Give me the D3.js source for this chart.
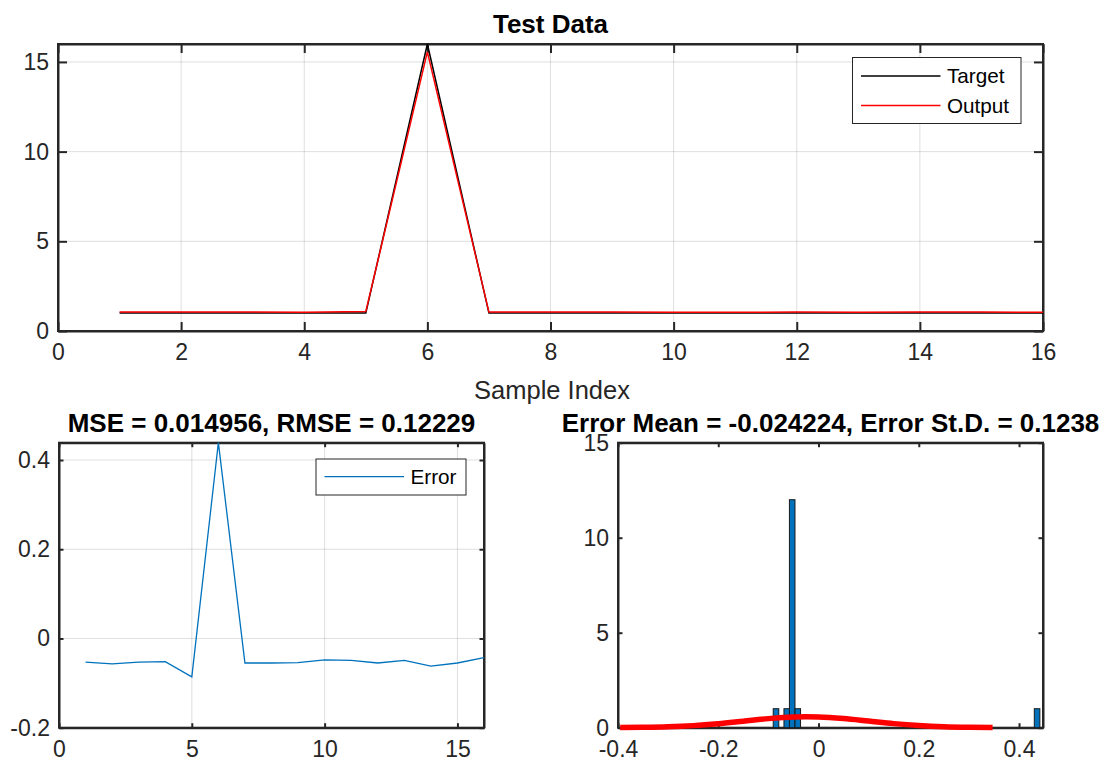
<!DOCTYPE html>
<html>
<head>
<meta charset="utf-8">
<script src="https://cdn.jsdelivr.net/npm/d3@7/dist/d3.min.js"></script>
<style>
  html, body { margin: 0; padding: 0; background: #fff; }
  svg { display: block; }
</style>
</head>
<body>
<svg id="chart" width="1105" height="762"></svg>
<script>
// ---------------- DATA ----------------
const sampleIndex = [1, 2, 3, 4, 5, 6, 7, 8, 9, 10, 11, 12, 13, 14, 15, 16];
const targetValues = [1, 1, 1, 1, 1, 16, 1, 1, 1, 1, 1, 1, 1, 1, 1, 1];
const outputValues = [1.053, 1.057, 1.053, 1.052, 1.086, 15.561, 1.055, 1.055, 1.054, 1.048, 1.049, 1.055, 1.049, 1.062, 1.055, 1.043];
const errorValues = [-0.053, -0.057, -0.053, -0.052, -0.086, 0.439, -0.055, -0.055, -0.054, -0.048, -0.049, -0.055, -0.049, -0.062, -0.055, -0.043];

const histBinCenters = [-0.0848, -0.0634, -0.0525, -0.0414, 0.4360];
const histCounts = [1, 1, 12, 1, 1];
const histBinWidth = 0.0111;

const fitX = [-0.3956, -0.35, -0.30, -0.25, -0.20, -0.15, -0.10, -0.05, -0.0242, 0.00, 0.05, 0.10, 0.15, 0.20, 0.25, 0.30, 0.3472];
const fitY = [0.006, 0.018, 0.048, 0.109, 0.211, 0.344, 0.478, 0.565, 0.577, 0.566, 0.482, 0.349, 0.214, 0.112, 0.050, 0.019, 0.006];

const topXTicks = [0, 2, 4, 6, 8, 10, 12, 14, 16];
const topYTicks = [0, 5, 10, 15];
const errXTicks = [0, 5, 10, 15];
const errYTicks = [-0.2, 0, 0.2, 0.4];
const histXTicks = [-0.4, -0.2, 0, 0.2, 0.4];
const histYTicks = [0, 5, 10, 15];

const topTitle = "Test Data";
const topXLabel = "Sample Index";
const errTitle = "MSE = 0.014956, RMSE = 0.12229";
const histTitle = "Error Mean = -0.024224, Error St.D. = 0.1238";
const legendTop = ["Target", "Output"];
const legendErr = ["Error"];

// ---------------- STYLE ----------------
const FONT = '"Liberation Sans", Arial, Helvetica, sans-serif';
const AX = "#262626";
const TICK_FS = 23;
const TITLE_FS = 26;
const LEG_FS = 20.7;
const BLUE = "#0072BD";

const svg = d3.select("#chart");

function fmt(d) { return String(d); }

function drawAxes(opts) {
  const { x, y, xTicks, yTicks, tl, grid } = opts;
  const [x0, x1] = x.range();
  const [y0, y1] = y.range(); // y0 bottom, y1 top
  const g = svg.append("g");
  if (grid) {
    g.append("g").selectAll("line").data(xTicks).join("line")
      .attr("x1", d => x(d)).attr("x2", d => x(d))
      .attr("y1", y0).attr("y2", y1)
      .attr("stroke", AX).attr("stroke-opacity", 0.15).attr("stroke-width", 1);
    g.append("g").selectAll("line").data(yTicks).join("line")
      .attr("y1", d => y(d)).attr("y2", d => y(d))
      .attr("x1", x0).attr("x2", x1)
      .attr("stroke", AX).attr("stroke-opacity", 0.15).attr("stroke-width", 1);
  }
  const bottom = g.append("g").attr("transform", `translate(0,${y0})`)
    .call(d3.axisBottom(x).tickValues(xTicks).tickFormat(fmt).tickSize(-tl).tickSizeOuter(0).tickPadding(13));
  const top = g.append("g").attr("transform", `translate(0,${y1})`)
    .call(d3.axisTop(x).tickValues(xTicks).tickFormat(() => "").tickSize(-tl).tickSizeOuter(0));
  const left = g.append("g").attr("transform", `translate(${x0},0)`)
    .call(d3.axisLeft(y).tickValues(yTicks).tickFormat(fmt).tickSize(-tl).tickSizeOuter(0).tickPadding(9));
  const right = g.append("g").attr("transform", `translate(${x1},0)`)
    .call(d3.axisRight(y).tickValues(yTicks).tickFormat(() => "").tickSize(-tl).tickSizeOuter(0));
  [bottom, top, left, right].forEach(a => {
    a.select(".domain").attr("stroke", AX).attr("stroke-width", 2);
    a.selectAll(".tick line").attr("stroke", AX).attr("stroke-width", 2);
    a.selectAll(".tick text").attr("fill", AX).attr("font-family", FONT).attr("font-size", TICK_FS);
  });
  g.append("rect").attr("x", x0).attr("y", y1).attr("width", x1 - x0).attr("height", y0 - y1)
    .attr("fill", "none").attr("stroke", AX).attr("stroke-width", 2);
  return g;
}

function title(text, cx, baseline) {
  svg.append("text").attr("x", cx).attr("y", baseline).attr("text-anchor", "middle")
    .attr("font-family", FONT).attr("font-size", TITLE_FS).attr("font-weight", "bold")
    .attr("fill", "#000").text(text);
}

function legend(x, y, w, h, items) {
  const g = svg.append("g").attr("transform", `translate(${x},${y})`);
  g.append("rect").attr("width", w).attr("height", h).attr("fill", "#fff")
    .attr("stroke", AX).attr("stroke-width", 1);
  items.forEach((it) => {
    const cy = it.cy;
    g.append("line").attr("x1", 8.5).attr("x2", 88).attr("y1", cy).attr("y2", cy)
      .attr("stroke", it.color).attr("stroke-width", 1.3);
    g.append("text").attr("x", 94.5).attr("y", cy).attr("dy", "0.36em")
      .attr("font-family", FONT).attr("font-size", LEG_FS).attr("fill", "#000").text(it.label);
  });
}

// ---------------- TOP PANEL ----------------
{
  const x = d3.scaleLinear().domain([0, 16]).range([58, 1043]);
  const y = d3.scaleLinear().domain([0, 16]).range([331, 44]);
  drawAxes({ x, y, xTicks: topXTicks, yTicks: topYTicks, tl: 9, grid: true });
  const line = d3.line().x((d, i) => x(sampleIndex[i])).y(d => y(d));
  svg.append("path").datum(targetValues).attr("d", line)
    .attr("fill", "none").attr("stroke", "#000").attr("stroke-width", 1.5);
  svg.append("path").datum(outputValues).attr("d", line)
    .attr("fill", "none").attr("stroke", "#ff0000").attr("stroke-width", 1.5);
  title(topTitle, (58 + 1043) / 2, 33);
  svg.append("text").attr("x", 552).attr("y", 399).attr("text-anchor", "middle")
    .attr("font-family", FONT).attr("font-size", 25.5).attr("fill", AX).text(topXLabel);
  legend(852.5, 57.5, 168.5, 66, [
    { label: legendTop[0], color: "#000", cy: 18.5 },
    { label: legendTop[1], color: "#ff0000", cy: 48 }
  ]);
}

// ---------------- ERROR PANEL ----------------
{
  const x = d3.scaleLinear().domain([0, 16]).range([59, 484]);
  const y = d3.scaleLinear().domain([-0.2, 0.4388]).range([727.7, 442.7]);
  drawAxes({ x, y, xTicks: errXTicks, yTicks: errYTicks, tl: 4.5, grid: true });
  const line = d3.line().x((d, i) => x(sampleIndex[i])).y(d => y(d));
  svg.append("path").datum(errorValues).attr("d", line)
    .attr("fill", "none").attr("stroke", BLUE).attr("stroke-width", 1.3);
  title(errTitle, (59 + 484) / 2, 432);
  legend(316, 459, 150, 36, [{ label: legendErr[0], color: BLUE, cy: 17.7 }]);
}

// ---------------- HISTOGRAM PANEL ----------------
{
  const x = d3.scaleLinear().domain([-0.4, 0.4478]).range([618, 1043]);
  const y = d3.scaleLinear().domain([0, 15]).range([727.7, 442.7]);
  drawAxes({ x, y, xTicks: histXTicks, yTicks: histYTicks, tl: 4.5, grid: false });
  svg.append("g").selectAll("rect").data(histBinCenters).join("rect")
    .attr("x", d => x(d - histBinWidth / 2))
    .attr("width", d => x(d + histBinWidth / 2) - x(d - histBinWidth / 2))
    .attr("y", (d, i) => y(histCounts[i]))
    .attr("height", (d, i) => y(0) - y(histCounts[i]))
    .attr("fill", BLUE).attr("stroke", "#1a1a1a").attr("stroke-width", 1);
  const curve = d3.line().x((d, i) => x(fitX[i])).y(d => y(d)).curve(d3.curveMonotoneX);
  svg.append("path").datum(fitY).attr("d", curve)
    .attr("fill", "none").attr("stroke", "#ff0000").attr("stroke-width", 5.5);
  title(histTitle, (618 + 1043) / 2, 432);
}
</script>
</body>
</html>
